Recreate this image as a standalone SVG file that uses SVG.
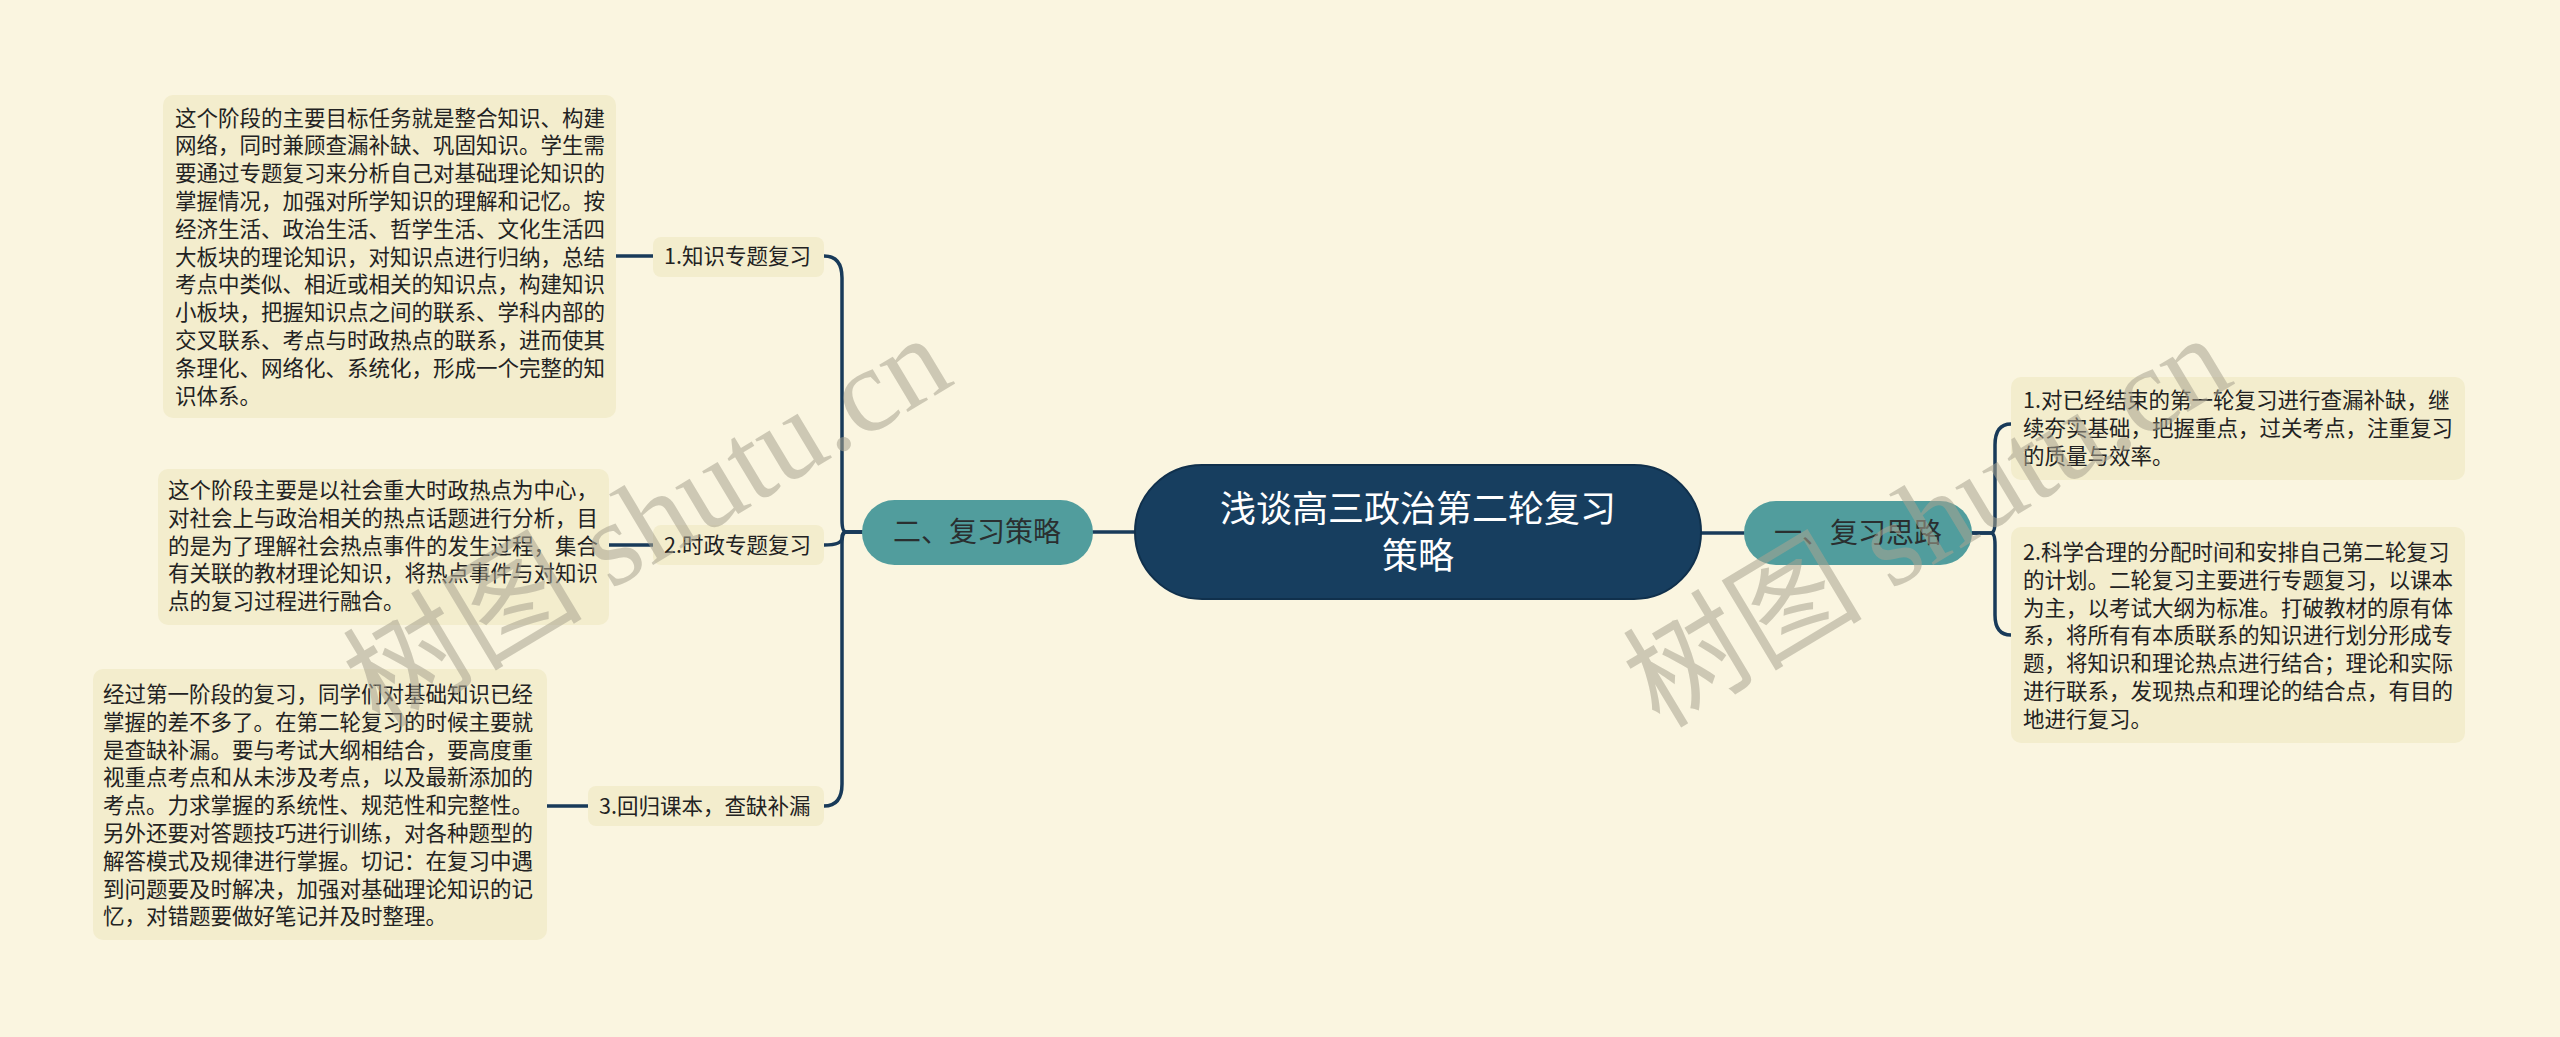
<svg xmlns="http://www.w3.org/2000/svg" width="2560" height="1037" viewBox="0 0 2560 1037">
<defs>
<style>
.bg{fill:#faf5e0}
.leaf{fill:#f3edcd}
.lt{font-family:"Noto Sans CJK SC","Noto Sans",sans-serif;font-size:21.5px;fill:#222222}
.teal{fill:#519d9d}
.tt{font-family:"Noto Sans CJK SC","Noto Sans",sans-serif;font-size:28px;fill:#2a2f30;text-anchor:middle}
.ct{font-family:"Noto Sans CJK SC","Noto Sans",sans-serif;font-size:36px;fill:#ffffff;text-anchor:middle}
.ln{fill:none;stroke:#183a59;stroke-width:3.5;stroke-linecap:round}
.wm{font-family:"Liberation Serif","Noto Sans CJK SC",serif;font-size:120px;fill:#a9a491;opacity:0.55;text-anchor:middle}
</style>
</defs>
<rect class="bg" x="0" y="0" width="2560" height="1037"/>

<g id="connectors">
<path class="ln" d="M1093,532 H1135"/>
<path class="ln" d="M1701,533 H1744"/>
<path class="ln" d="M862,532 H846 Q842,532 842,520 V278 Q842,256 824,256"/>
<path class="ln" d="M862,532 H846 Q842,532 842,538 Q842,545 824,545"/>
<path class="ln" d="M862,532 H846 Q842,532 842,544 V784 Q842,806 824,806"/>
<path class="ln" d="M616,256 H653"/>
<path class="ln" d="M609,545 H653"/>
<path class="ln" d="M547,806 H588"/>
<path class="ln" d="M1972,533 H1991 Q1995,533 1995,521 V445 Q1995,424 2011,424"/>
<path class="ln" d="M1972,533 H1991 Q1995,533 1995,545 V615 Q1995,635 2011,635"/>
</g>

<g id="center">
<rect x="1135" y="465" width="566" height="134" rx="67" fill="#173e5f" stroke="#10304c" stroke-width="2"/>
<text class="ct" x="1418" y="522">浅谈高三政治第二轮复习</text>
<text class="ct" x="1418" y="569">策略</text>
</g>

<g id="branch-left">
<rect class="teal" x="862" y="500" width="231" height="65" rx="32.5"/>
<text class="tt" x="977" y="542">二、复习策略</text>
</g>

<g id="branch-right">
<rect class="teal" x="1744" y="501" width="228" height="64" rx="32"/>
<text class="tt" x="1858" y="543">一、复习思路</text>
</g>

<g id="label-1">
<rect class="leaf" x="653" y="237" width="171" height="40" rx="8"/>
<text class="lt" x="664" y="264">1.知识专题复习</text>
</g>
<g id="label-2">
<rect class="leaf" x="653" y="525" width="171" height="40" rx="8"/>
<text class="lt" x="664" y="553">2.时政专题复习</text>
</g>
<g id="label-3">
<rect class="leaf" x="588" y="786" width="236" height="40" rx="8"/>
<text class="lt" x="599" y="814">3.回归课本，查缺补漏</text>
</g>

<g id="leaf-1">
<rect class="leaf" x="163" y="95" width="453" height="323" rx="10"/>
<text class="lt" x="175" y="125.6">
<tspan x="175" dy="0">这个阶段的主要目标任务就是整合知识、构建</tspan>
<tspan x="175" dy="27.8">网络，同时兼顾查漏补缺、巩固知识。学生需</tspan>
<tspan x="175" dy="27.8">要通过专题复习来分析自己对基础理论知识的</tspan>
<tspan x="175" dy="27.8">掌握情况，加强对所学知识的理解和记忆。按</tspan>
<tspan x="175" dy="27.8">经济生活、政治生活、哲学生活、文化生活四</tspan>
<tspan x="175" dy="27.8">大板块的理论知识，对知识点进行归纳，总结</tspan>
<tspan x="175" dy="27.8">考点中类似、相近或相关的知识点，构建知识</tspan>
<tspan x="175" dy="27.8">小板块，把握知识点之间的联系、学科内部的</tspan>
<tspan x="175" dy="27.8">交叉联系、考点与时政热点的联系，进而使其</tspan>
<tspan x="175" dy="27.8">条理化、网络化、系统化，形成一个完整的知</tspan>
<tspan x="175" dy="27.8">识体系。</tspan>
</text>
</g>

<g id="leaf-2">
<rect class="leaf" x="158" y="469" width="451" height="156" rx="10"/>
<text class="lt" x="168" y="498">
<tspan x="168" dy="0">这个阶段主要是以社会重大时政热点为中心，</tspan>
<tspan x="168" dy="27.8">对社会上与政治相关的热点话题进行分析，目</tspan>
<tspan x="168" dy="27.8">的是为了理解社会热点事件的发生过程，集合</tspan>
<tspan x="168" dy="27.8">有关联的教材理论知识，将热点事件与对知识</tspan>
<tspan x="168" dy="27.8">点的复习过程进行融合。</tspan>
</text>
</g>

<g id="leaf-3">
<rect class="leaf" x="93" y="669" width="454" height="271" rx="10"/>
<text class="lt" x="103" y="702">
<tspan x="103" dy="0">经过第一阶段的复习，同学们对基础知识已经</tspan>
<tspan x="103" dy="27.8">掌握的差不多了。在第二轮复习的时候主要就</tspan>
<tspan x="103" dy="27.8">是查缺补漏。要与考试大纲相结合，要高度重</tspan>
<tspan x="103" dy="27.8">视重点考点和从未涉及考点，以及最新添加的</tspan>
<tspan x="103" dy="27.8">考点。力求掌握的系统性、规范性和完整性。</tspan>
<tspan x="103" dy="27.8">另外还要对答题技巧进行训练，对各种题型的</tspan>
<tspan x="103" dy="27.8">解答模式及规律进行掌握。切记：在复习中遇</tspan>
<tspan x="103" dy="27.8">到问题要及时解决，加强对基础理论知识的记</tspan>
<tspan x="103" dy="27.8">忆，对错题要做好笔记并及时整理。</tspan>
</text>
</g>

<g id="leaf-r1">
<rect class="leaf" x="2011" y="377" width="454" height="103" rx="10"/>
<text class="lt" x="2023" y="408">
<tspan x="2023" dy="0">1.对已经结束的第一轮复习进行查漏补缺，继</tspan>
<tspan x="2023" dy="27.8">续夯实基础，把握重点，过关考点，注重复习</tspan>
<tspan x="2023" dy="27.8">的质量与效率。</tspan>
</text>
</g>

<g id="leaf-r2">
<rect class="leaf" x="2011" y="527" width="454" height="216" rx="10"/>
<text class="lt" x="2023" y="560">
<tspan x="2023" dy="0">2.科学合理的分配时间和安排自己第二轮复习</tspan>
<tspan x="2023" dy="27.8">的计划。二轮复习主要进行专题复习，以课本</tspan>
<tspan x="2023" dy="27.8">为主，以考试大纲为标准。打破教材的原有体</tspan>
<tspan x="2023" dy="27.8">系，将所有有本质联系的知识进行划分形成专</tspan>
<tspan x="2023" dy="27.8">题，将知识和理论热点进行结合；理论和实际</tspan>
<tspan x="2023" dy="27.8">进行联系，发现热点和理论的结合点，有目的</tspan>
<tspan x="2023" dy="27.8">地进行复习。</tspan>
</text>
</g>

<g id="watermarks">
<text class="wm" transform="translate(668,556) rotate(-31)">树图 shutu.cn</text>
<text class="wm" transform="translate(1948,556) rotate(-31)">树图 shutu.cn</text>
</g>
</svg>
